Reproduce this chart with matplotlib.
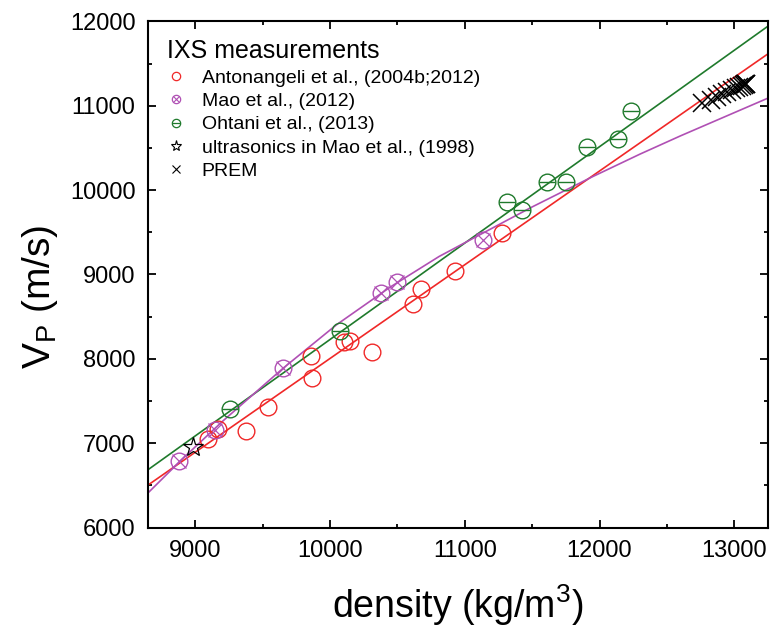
import matplotlib
matplotlib.use("Agg")
import matplotlib.pyplot as plt
from matplotlib.lines import Line2D
from matplotlib.ticker import MultipleLocator

plt.rcParams["font.family"] = ["Liberation Sans", "DejaVu Sans"]
plt.rcParams["mathtext.default"] = "regular"

# ---- data ----
# Antonangeli et al. (2004b;2012)
ant_density = [9093, 9173, 9378, 9538, 9864, 9859, 10106, 10148, 10311, 10619, 10674, 10926, 11279]
ant_vp = [7049, 7168, 7144, 7433, 7777, 8037, 8203, 8215, 8085, 8647, 8828, 9042, 9496]

# Mao et al. (2012)
mao_density = [8879, 9148, 9649, 10382, 10499, 11138]
mao_vp = [6792, 7156, 7895, 8784, 8915, 9409]

# Ohtani et al. (2013)
oht_density = [9261, 10074, 11311, 11427, 11612, 11753, 11908, 12138, 12230]
oht_vp = [7402, 8334, 9863, 9765, 10093, 10093, 10516, 10603, 10939]

# ultrasonics in Mao et al. (1998)
us_density = [8982]
us_vp = [6951]

# PREM inner core
prem_density = [12764, 12825, 12871, 12912, 12949, 12982, 13010, 13034, 13054, 13069, 13080, 13086, 13089]
prem_vp = [11028, 11073, 11105, 11135, 11162, 11185, 11206, 11223, 11237, 11248, 11256, 11261, 11262]

# fit curves
ant_fit_density = [8650, 13250]
ant_fit_vp = [6503, 11615]
oht_fit_density = [8650, 13250]
oht_fit_vp = [6685, 11943]
mao_fit_density = [8650, 8900, 9200, 9650, 10050, 10450, 10810, 11100, 11500, 11950, 12300, 12600, 13250]
mao_fit_vp = [6410, 6805, 7255, 7885, 8405, 8853, 9213, 9460, 9800, 10160, 10426, 10642, 11090]

red = "#f02828"
purple = "#b050b4"
green = "#1f7a2c"

fig = plt.figure(figsize=(7.72, 6.28), dpi=100)
ax = fig.add_axes([0.1917, 0.160, 0.8031, 0.806])

# fit lines
ax.plot(ant_fit_density, ant_fit_vp, color=red, lw=1.2, zorder=2)
ax.plot(oht_fit_density, oht_fit_vp, color=green, lw=1.2, zorder=2)
ax.plot(mao_fit_density, mao_fit_vp, color=purple, lw=1.2, zorder=2)

ms = 12
# measurements
ax.plot(ant_density, ant_vp, ls="none", marker="o", ms=ms, mfc="none", mec=red, mew=1.0, zorder=3)
ax.plot(mao_density, mao_vp, ls="none", marker="o", ms=ms, mfc="none", mec=purple, mew=1.0, zorder=3)
ax.plot(mao_density, mao_vp, ls="none", marker="x", ms=10, mec=purple, mew=0.9, zorder=3)
ax.plot(oht_density, oht_vp, ls="none", marker="o", ms=ms, mfc="none", mec=green, mew=1.0, zorder=3)
ax.plot(oht_density, oht_vp, ls="none", marker="_", ms=ms, mec=green, mew=1.0, zorder=3)
ax.plot(us_density, us_vp, ls="none", marker="*", ms=15, mfc="none", mec="black", mew=0.9, zorder=4)
ax.plot(prem_density, prem_vp, ls="none", marker="x", ms=13, mec="black", mew=1.1, zorder=4)

ax.set_xlim(8650, 13250)
ax.set_ylim(6000, 12000)
ax.xaxis.set_major_locator(MultipleLocator(1000))
ax.xaxis.set_minor_locator(MultipleLocator(500))
ax.yaxis.set_major_locator(MultipleLocator(1000))
ax.yaxis.set_minor_locator(MultipleLocator(500))
ax.tick_params(which="both", direction="in", top=True, right=True, width=1.3, labelsize=17, pad=9)
ax.tick_params(which="major", length=6)
ax.tick_params(which="minor", length=3)
for sp in ax.spines.values():
    sp.set_linewidth(1.5)

ax.set_xlabel("density (kg/m$^3$)", fontsize=27, labelpad=15)
ax.set_ylabel("V$_P$ (m/s)", fontsize=28)
ax.yaxis.set_label_coords(-0.142, 0.455)

# legend
sm = 6
handles = [
    Line2D([], [], ls="none", marker="o", ms=sm, mfc="none", mec=red, mew=0.9),
    (Line2D([], [], ls="none", marker="o", ms=sm, mfc="none", mec=purple, mew=0.9),
     Line2D([], [], ls="none", marker="x", ms=sm * 0.8, mec=purple, mew=0.8)),
    (Line2D([], [], ls="none", marker="o", ms=sm, mfc="none", mec=green, mew=0.9),
     Line2D([], [], ls="none", marker="_", ms=sm, mec=green, mew=0.9)),
    Line2D([], [], ls="none", marker="*", ms=8, mfc="none", mec="black", mew=0.8),
    Line2D([], [], ls="none", marker="x", ms=sm, mec="black", mew=0.8),
]
labels = [
    "Antonangeli et al., (2004b;2012)",
    "Mao et al., (2012)",
    "Ohtani et al., (2013)",
    "ultrasonics in Mao et al., (1998)",
    "PREM",
]
ax.legend(handles, labels, title="IXS measurements", title_fontsize=18, fontsize=14,
          frameon=False, loc="upper left", bbox_to_anchor=(0.03, 0.965),
          bbox_transform=ax.transAxes, borderaxespad=0, borderpad=0,
          handlelength=1.0, handletextpad=0.8, labelspacing=0.3, alignment="left")

fig.savefig("out.png", dpi=100)
